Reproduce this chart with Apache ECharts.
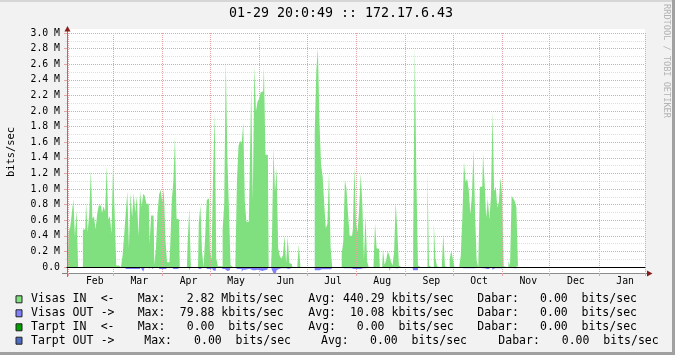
<!DOCTYPE html>
<html><head><meta charset="utf-8">
<script src="https://cdn.jsdelivr.net/npm/echarts@6/dist/echarts.min.js"></script>
<style>html,body{margin:0;padding:0;background:#F2F2F2}#c{width:675px;height:355px}</style>
</head><body><div id="c"></div>
<script>
// ---------- data ----------
const titleText = '01-29 20:0:49 :: 172.17.6.43';
const monthNames = ['Jan','Feb','Mar','Apr','May','Jun','Jul','Aug','Sep','Oct','Nov','Dec'];
const yTickLabels = ['0.0','0.2 M','0.4 M','0.6 M','0.8 M','1.0 M','1.2 M','1.4 M','1.6 M','1.8 M','2.0 M','2.2 M','2.4 M','2.6 M','2.8 M','3.0 M'];
// daily categories: Jan 31 .. Jan 29 (364 days)
const categories = [];
for (let i = 0; i < 364; i++) {
  const d = new Date(Date.UTC(2010, 0, 31 + i));
  categories.push(d.toISOString().slice(0, 10));
}
// Visas IN, Mbits/sec per day (from Jan 31)
const visasIn = [
0.09,0.45,0.51,0.68,0.87,0.39,0.73,0,0,0,
0.48,0.48,0.82,0.45,0.68,1.24,0.62,0.65,0.48,0.68,
0.79,0.79,0.69,0.78,0.71,1.30,0.61,0.65,0.43,1.30,
0.70,0.02,0.02,0,0,0.15,0.41,0.70,0.97,0.24,
0.95,0.64,0.95,0.70,0.91,0.40,0.97,0.77,0.94,0.91,
0.81,0.81,0.30,0.66,0.66,0.03,0.24,0.69,0.93,0.99,
0.83,1.00,0.35,0.06,0.06,0.27,0.86,1.10,1.68,0.62,
0.61,0,0,0,0,0,0.32,0.75,0,0,
0,0,0,0.57,0.79,0.21,0,0.38,0.86,0.88,
0.20,0.10,1.19,1.97,0.11,0.01,0.01,0.01,0.48,0.80,
2.66,1.40,0.73,0.02,0,0,0,1.09,1.55,1.62,
1.58,1.85,0.84,0.58,0.58,1.13,2.32,0.86,2.57,2.00,
2.12,2.16,2.24,2.25,2.57,1.44,1.44,0,0,0.29,
1.53,0.96,1.27,0.24,0.14,0.11,0.15,0.40,0.05,0.39,
0.05,0.04,0,0,0,0,0.29,0,0,0,
0,0,0,0,0,0,1.71,2.52,2.80,1.86,
1.31,1.16,0.80,0.50,0.55,1.22,0.25,0,0,0,
0,0,0,0.17,0.33,1.12,1.00,0.68,0.40,0.40,
0.48,1.29,0.56,0.45,0.76,1.20,0.80,0.10,0.66,0.07,
0,0,0,0,0.56,0.24,0.23,0,0,0.23,
0.03,0.09,0.20,0.15,0.07,0.02,0.20,0.83,0.48,0.02,
0,0,0,0,0,0,0,0,0.32,2.82,
1.20,0.02,0,0,0,0,0,1.22,0.02,0,
0,0.56,0.12,0.01,0,0,0,0.43,0.01,0,
0,0.10,0.21,0.10,0,0,0,0,0.15,0.65,
1.35,1.09,1.13,0.99,0.68,0.91,1.51,0.67,0.08,0,
1.03,1.03,1.45,1.08,0.63,0.88,0.61,0.91,2.00,0.97,
1.03,0.76,0.84,1.15,0.91,0.01,0,0,0.07,0.02,
0.91,0.88,0.84,0.77,0.01
];
// Visas OUT, kbits/sec per day (drawn below zero)
const visasOut = [
0,0,0,0,0,0,0,0,0,0,
0,0,0,0,0,0,0,0,0,0,
0,0,0,0,0,0,0,0,0,0,
0,0,0,0,0,0,0,26,26,26,
26,26,26,26,26,26,0,26,60,0,
0,0,26,0,26,0,0,0,26,26,
26,26,26,0,0,0,0,26,26,26,
26,0,0,0,0,0,0,43,0,0,
0,0,0,26,26,0,0,0,26,26,
26,0,43,51,0,0,0,0,26,26,
51,51,43,0,0,0,0,26,26,26,
60,34,34,26,26,26,43,60,43,34,
34,43,51,43,43,34,26,0,0,34,
77,80,43,26,17,17,17,17,0,26,
17,17,0,0,0,0,0,0,0,0,
0,0,0,0,0,0,43,43,43,30,
30,30,30,30,30,30,30,0,0,0,
0,0,0,17,17,17,17,17,17,26,
26,26,26,26,26,26,17,17,17,0,
0,0,0,0,0,0,0,0,0,0,
0,0,0,51,0,0,17,17,17,0,
0,0,0,0,0,0,0,0,43,43,
43,0,0,0,0,0,0,17,0,0,
0,17,0,0,0,0,0,0,0,0,
0,0,17,17,0,0,0,0,0,17,
17,17,17,17,17,17,17,0,0,0,
17,17,17,17,26,26,0,0,34,17,
17,17,17,17,17,0,0,0,0,0,
17,17,17,17,0
];
// legend table
const legendNames = ['Visas IN','Visas OUT','Tarpt IN','Tarpt OUT'];
const legendArrows = ['<-','->','<-','->'];
const legendColors = ['#80E080','#8080FF','#00A000','#4F6CC4'];
const maxVals = [2.82, 79.88, 0.00, 0.00];
const maxUnits = ['M','k',' ',' '];
const avgVals = [440.29, 10.08, 0.00, 0.00];
const avgUnits = ['k','k',' ',' '];
const dabarVals = [0.00, 0.00, 0.00, 0.00];
const dabarUnits = [' ',' ',' ',' '];

// ---------- helpers ----------
const monthStart = new Set();
const monthLabel = new Set();
categories.forEach((c, i) => {
  if (c.slice(8, 10) === '01') { monthStart.add(i); monthLabel.add(i + 16); }
});
const isStart = (i) => monthStart.has(i);
const isLabel = (i) => monthLabel.has(i);
const MONO = '"DejaVu Sans Mono", monospace';
function fmt(v, u) { let s = v.toFixed(2); while (s.length < 6) s = ' ' + s; return s + ' ' + u + 'bits/sec'; }

const majorCol = '#E8A4A4', minorCol = '#E2DCDC';
const gridLeft = 67, gridW = 578;

const graphics = [];
// frame
graphics.push({type:'rect', shape:{x:0,y:0,width:675,height:2}, style:{fill:'#D6D6D6'}, silent:true});
graphics.push({type:'rect', shape:{x:672,y:0,width:3,height:355}, style:{fill:'#A0A0A0'}, silent:true});
graphics.push({type:'rect', shape:{x:0,y:352,width:675,height:3}, style:{fill:'#A0A0A0'}, silent:true});
// plot canvas top margin (white)
graphics.push({type:'rect', shape:{x:gridLeft,y:29,width:gridW,height:4}, style:{fill:'#FFFFFF'}, silent:true, z:-1});
// title
graphics.push({type:'text', x:341, y:14, style:{text:titleText, font:'13.3px ' + MONO, fill:'#000', align:'center', verticalAlign:'middle', textAlign:'center', textVerticalAlign:'middle'}});
// y title
graphics.push({type:'text', x:11, y:152, rotation:Math.PI/2, style:{text:'bits/sec', font:'10.4px ' + MONO, fill:'#000', align:'center', verticalAlign:'middle', textAlign:'center', textVerticalAlign:'middle'}});
// watermark
graphics.push({type:'text', x:666, y:61, rotation:-Math.PI/2, style:{text:'RRDTOOL / TOBI OETIKER', font:'8.6px ' + MONO, fill:'#B4B4B4', align:'center', verticalAlign:'middle', textAlign:'center', textVerticalAlign:'middle'}});
// axis extensions and arrows
graphics.push({type:'line', shape:{x1:67.5,y1:30,x2:67.5,y2:33}, style:{stroke:'#808080', lineWidth:1}});
graphics.push({type:'line', shape:{x1:67.5,y1:273,x2:67.5,y2:277}, style:{stroke:'#808080', lineWidth:1}});
graphics.push({type:'line', shape:{x1:62,y1:273.5,x2:67,y2:273.5}, style:{stroke:'#808080', lineWidth:1}});
graphics.push({type:'line', shape:{x1:645,y1:273.5,x2:648,y2:273.5}, style:{stroke:'#808080', lineWidth:1}});
graphics.push({type:'polygon', shape:{points:[[67.5,26],[64.5,31.5],[70.5,31.5]]}, style:{fill:'#8B1A1A'}, z:20});
graphics.push({type:'polygon', shape:{points:[[652.5,273.5],[647,270.5],[647,276.5]]}, style:{fill:'#8B1A1A'}, z:20});
// legend table
const rowY = [299.3, 313.3, 327.3, 340.7];
const colsA = {max:137.7, maxV:172.9, avg:308.3, avgV:343, dab:477.3, dabV:526.2};
const colsB = {max:144.3, maxV:180.2, avg:321, avgV:356.2, dab:498.3, dabV:547.9};
legendNames.forEach((n, r) => {
  const y = rowY[r];
  const c = r === 3 ? colsB : colsA;
  graphics.push({type:'rect', shape:{x:16,y:y-3.5,width:6,height:7}, style:{fill:legendColors[r], stroke:'#222', lineWidth:1}});
  const items = [
    [31, n], [100.7, legendArrows[r]], [c.max, 'Max:'], [c.maxV, fmt(maxVals[r], maxUnits[r])],
    [c.avg, 'Avg:'], [c.avgV, fmt(avgVals[r], avgUnits[r])],
    [c.dab, 'Dabar:'], [c.dabV, fmt(dabarVals[r], dabarUnits[r])]
  ];
  items.forEach(([x, t]) => {
    graphics.push({type:'text', x:x, y:y, style:{text:t, font:'11.5px ' + MONO, fill:'#000', align:'left', verticalAlign:'middle', textAlign:'left', textVerticalAlign:'middle'}});
  });
});

const chart = echarts.init(document.getElementById('c'), null, {renderer:'canvas'});
chart.setOption({
  animation: false,
  backgroundColor: '#F2F2F2',
  grid: [
    {left:gridLeft, top:33, width:gridW, height:234, show:true, backgroundColor:'#FFFFFF', borderWidth:0},
    {left:gridLeft, top:267, width:gridW, height:6, show:true, backgroundColor:'#FFFFFF', borderWidth:0}
  ],
  xAxis: [
    {gridIndex:0, type:'category', data:categories, boundaryGap:true, z:6,
     axisLine:{show:true, onZero:false, lineStyle:{color:'#000', width:1}},
     axisTick:{show:false, interval:isStart}, axisLabel:{show:false, interval:isStart},
     splitLine:{show:true, interval:isStart, lineStyle:{color:majorCol, type:[1,1], width:1}}},
    {gridIndex:1, type:'category', data:categories, boundaryGap:true, position:'bottom',
     axisLine:{show:true, onZero:false, lineStyle:{color:'#8C8C8C', width:1}},
     axisTick:{show:true, interval:isStart, length:3, lineStyle:{color:majorCol}},
     axisLabel:{show:true, interval:isLabel, margin:3, color:'#000', fontFamily:MONO, fontSize:9.8,
       formatter:(v)=>monthNames[parseInt(v.slice(5,7),10)-1]},
     splitLine:{show:true, interval:isStart, lineStyle:{color:majorCol, type:[1,1], width:1}}}
  ],
  yAxis: [
    {gridIndex:0, type:'value', min:0, max:3000000, interval:200000,
     axisLine:{show:true, lineStyle:{color:'#808080'}},
     axisTick:{show:true, length:3, lineStyle:{color:majorCol}},
     minorTick:{show:true, splitNumber:2, length:2, lineStyle:{color:minorCol}},
     minorSplitLine:{show:true, lineStyle:{color:minorCol, type:[1,1], width:1}},
     splitLine:{show:true, lineStyle:{color:majorCol, type:[1,1], width:1}},
     axisLabel:{margin:7, color:'#000', fontFamily:MONO, fontSize:9.8,
       formatter:(v)=>yTickLabels[Math.round(v/200000)]}},
    {gridIndex:1, type:'value', min:-77000, max:0,
     axisLine:{show:true, lineStyle:{color:'#808080'}}, axisTick:{show:false},
     axisLabel:{show:false}, splitLine:{show:false}}
  ],
  series: [
    {name:'Visas IN', type:'line', xAxisIndex:0, yAxisIndex:0, step:'middle', symbol:'none', silent:true, z:3,
     data: visasIn.map(v=>v*1e6), lineStyle:{width:0, color:'#80E080'}, areaStyle:{color:'#80E080', opacity:1, origin:'start'}},
    {name:'Visas OUT', type:'line', xAxisIndex:1, yAxisIndex:1, step:'middle', symbol:'none', silent:true, z:3,
     data: visasOut.map(v=>-v*1e3), lineStyle:{width:0, color:'#8080FF'}, areaStyle:{color:'#8080FF', opacity:1, origin:'end'}}
  ],
  graphic: graphics
});
</script></body></html>
